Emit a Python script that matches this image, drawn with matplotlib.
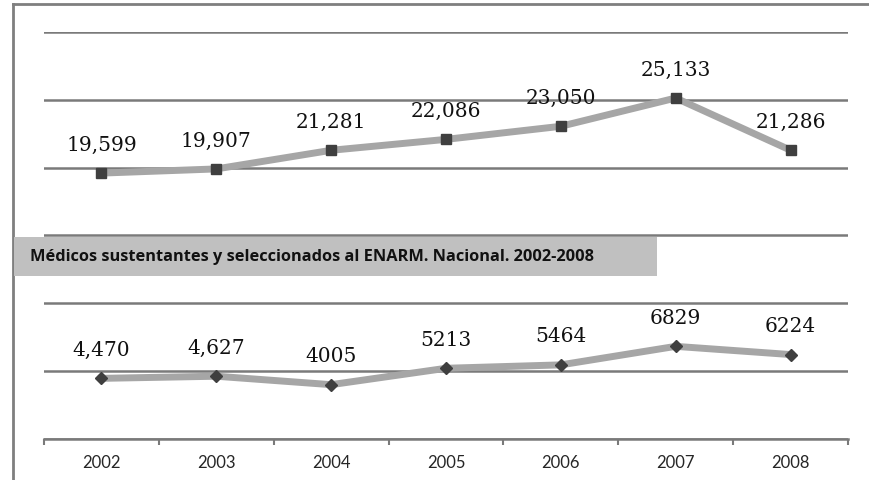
import matplotlib.pyplot as plt
from matplotlib.patches import Rectangle
from matplotlib.lines import Line2D

years = ['2002', '2003', '2004', '2005', '2006', '2007', '2008']
sustentantes = [19599, 19907, 21281, 22086, 23050, 25133, 21286]
sustentantes_labels = ['19,599', '19,907', '21,281', '22,086', '23,050', '25,133', '21,286']
seleccionados = [4470, 4627, 4005, 5213, 5464, 6829, 6224]
seleccionados_labels = ['4,470', '4,627', '4005', '5213', '5464', '6829', '6224']
title = 'Médicos sustentantes y seleccionados al ENARM. Nacional. 2002-2008'

W, H = 870, 481
fig = plt.figure(figsize=(W / 100, H / 100), dpi=100)
ax = fig.add_axes([44 / W, 1 - 440 / H, (848 - 44) / W, (440 - 33) / H])

x = list(range(len(years)))
line_c = '#a6a6a6'
mark_c = '#3f3f3f'

ax.plot(x, sustentantes, color=line_c, lw=5, marker='s', ms=7,
        mfc=mark_c, mec=mark_c, zorder=3)
ax.plot(x, seleccionados, color=line_c, lw=5, marker='D', ms=6.5,
        mfc=mark_c, mec=mark_c, zorder=3)

# data labels above each point
for xi, v, lab in zip(x, sustentantes, sustentantes_labels):
    ax.annotate(lab, (xi, v), xytext=(0, 14), textcoords='offset points',
                ha='center', va='bottom', fontsize=14.5, family='DejaVu Serif',
                color='#111111')
for xi, v, lab in zip(x, seleccionados, seleccionados_labels):
    ax.annotate(lab, (xi, v), xytext=(0, 14), textcoords='offset points',
                ha='center', va='bottom', fontsize=14.5, family='DejaVu Serif',
                color='#111111')

ax.set_xlim(-0.5, len(years) - 0.5)
ax.set_ylim(0, 30000)
ax.set_yticks(range(0, 30001, 5000))
ax.yaxis.grid(True, color='#7a7a7a', lw=1.8)
ax.set_axisbelow(True)
ax.tick_params(axis='y', left=False, labelleft=False)

ax.set_xticks(x)
ax.set_xticklabels(years, fontsize=12, family='Lato', color='#262626')
ax.set_xticks([i - 0.5 for i in range(len(years) + 1)], minor=True)
ax.tick_params(axis='x', which='major', length=0, pad=11)
ax.tick_params(axis='x', which='minor', length=4, width=1.5, color='#7a7a7a',
               direction='out')

for s in ['top', 'right', 'left']:
    ax.spines[s].set_visible(False)
ax.spines['bottom'].set_color('#7a7a7a')
ax.spines['bottom'].set_linewidth(1.8)

# frame of the figure (top and left)
fig.add_artist(Line2D([13 / W, 1], [1 - 5 / H, 1 - 5 / H], color='#7f7f7f', lw=2,
                      transform=fig.transFigure))
fig.add_artist(Line2D([13 / W, 13 / W], [0, 1 - 5 / H], color='#7f7f7f', lw=2,
                      transform=fig.transFigure))

# title box
fig.add_artist(Rectangle((14 / W, 1 - 277 / H), (657 - 14) / W, 39 / H,
                         transform=fig.transFigure, facecolor='#c0c0c0',
                         edgecolor='none', zorder=5))
fig.text(30 / W, 1 - 257 / H, title, fontsize=11.8, fontweight='bold',
         family='Open Sans', color='#111111', va='center', ha='left', zorder=6)

fig.savefig('out.png', dpi=100, facecolor='white')
